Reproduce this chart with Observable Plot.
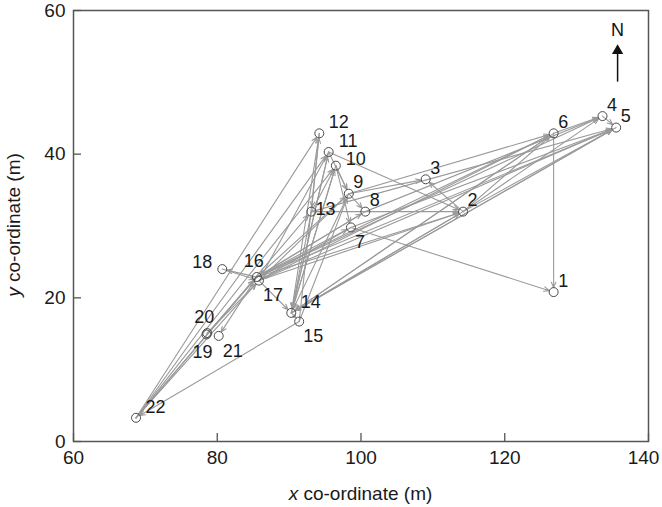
<!DOCTYPE html>
<html>
<head>
<meta charset="utf-8">
<script src="https://cdn.jsdelivr.net/npm/d3@7"></script>
<script src="https://cdn.jsdelivr.net/npm/@observablehq/plot@0.6"></script>
<style>
  html, body { margin: 0; padding: 0; background: #fff; }
  #chart { width: 662px; height: 507px; }
</style>
</head>
<body>
<div id="chart"></div>
<script>
// ---- Data ----
const siteIds = [1,2,3,4,5,6,7,8,9,10,11,12,13,14,15,16,17,18,19,20,21,22];
const xCoord  = [126.8,114.2,109.0,133.6,135.5,126.8,98.6,100.6,98.3,96.5,95.5,94.2,93.1,90.3,91.4,85.5,85.8,80.7,78.5,78.6,80.2,68.7];
const yCoord  = [20.8,32.0,36.5,45.3,43.7,42.9,29.8,32.0,34.5,38.4,40.3,42.9,32.0,17.9,16.7,22.9,22.4,24.0,14.9,15.1,14.7,3.3];
const labelSide = ["NE","NE","NE","NE","NE","NE","SE","NE","NE","ENE","NE","NE","E","NE","SE","N","SE","NW","S","N","SE","NE"];

// movements between sites (from -> to)
const moveFrom = [6,7,6,4,9,2,2,2,2,14,14,16,16,17,7,8,13,5,6,2,14,13,11,12,11,10,9,13,14,14,15,17,14,22,22,22,22,22,22,15,11,16,18,16,19,20,16,16,16,17,17,9,8,7,10,10,11,9,9,13,12,17,16,15];
const moveTo   = [1,1,4,5,6,3,6,4,5,5,6,5,4,6,5,4,5,14,14,14,2,2,2,14,14,14,14,14,11,10,12,14,15,12,11,10,13,16,17,22,17,18,17,21,16,17,7,8,2,9,2,16,16,17,7,9,9,8,3,10,13,5,6,9];

const xTicks = [60,80,100,120,140];
const yTicks = [0,20,40,60];

// compass annotation (data units)
const compassX = [135.7];
const compassLabelY = [57.2];
const compassArrowY = [50.1, 54.4];

// ---- Build tables ----
const sites = siteIds.map((id, i) => ({id, x: xCoord[i], y: yCoord[i], side: labelSide[i]}));
const byId = new Map(sites.map(s => [s.id, s]));
const moves = moveFrom.map((f, i) => {
  const a = byId.get(f), b = byId.get(moveTo[i]);
  return {x1: a.x, y1: a.y, x2: b.x, y2: b.y};
});

function offsetFor(s) {
  const n = String(s.id).length;
  switch (s.side) {
    case "NE":  return [n * 10 - 0.5, -11];
    case "ENE": return [n * 10, -6];
    case "E":   return [n * 7, -2];
    case "SE":  return [4 + n * 5, 15];
    case "N":   return [-3, -16];
    case "S":   return [-4, 18];
    case "NW":  return [-n * 10, -7];
    default:    return [0, 0];
  }
}
const labelGroups = d3.groups(sites, s => offsetFor(s).join(","));

const font = "'Liberation Sans', Arial, Helvetica, sans-serif";

const chart = Plot.plot({
  width: 662,
  height: 507,
  marginLeft: 73,
  marginRight: 14,
  marginTop: 10,
  marginBottom: 66,
  style: {fontFamily: font, fontSize: "19px", color: "#1a1a1a", background: "#fff"},
  x: {domain: [60, 140], label: null},
  y: {domain: [0, 60], label: null},
  marks: [
    Plot.arrow(moves, {
      x1: "x1", y1: "y1", x2: "x2", y2: "y2",
      stroke: "#9a9a9a", strokeWidth: 1.1,
      headLength: 8, headAngle: 45, insetEnd: 4.5, insetStart: 0
    }),
    Plot.dot(sites, {x: "x", y: "y", r: 4.5, stroke: "#4a4a4a", strokeWidth: 1, fill: "none"}),
    ...labelGroups.map(([key, group]) => {
      const [dx, dy] = key.split(",").map(Number);
      return Plot.text(group, {x: "x", y: "y", text: d => String(d.id), dx, dy,
        fontSize: 18, fill: "#1a1a1a", textAnchor: "middle"});
    }),
    // compass
    Plot.link(compassX, {x1: d => d, x2: d => d, y1: compassArrowY[0], y2: compassArrowY[1], stroke: "#111", strokeWidth: 1.5}),
    Plot.dot(compassX, {x: d => d, y: compassArrowY[1], symbol: "triangle", r: 4.2, fill: "#111", stroke: "none"}),
    Plot.text(compassX, {x: d => d, y: compassLabelY[0], text: () => "N", fontSize: 18, fill: "#111"}),
    Plot.frame({stroke: "#555", strokeWidth: 1.5}),
    Plot.axisX({ticks: xTicks, tickSize: -8, tickPadding: 17, stroke: "#555", strokeWidth: 1.3, fontSize: 19, label: null}),
    Plot.axisY({ticks: yTicks, tickSize: -8, tickPadding: 16, stroke: "#555", strokeWidth: 1.3, fontSize: 19, label: null})
  ]
});

const svg = d3.select(chart);
// keep the last x tick label inside the picture (as in the reference)
svg.selectAll('g[aria-label="x-axis tick label"] text')
  .filter(function() { return this.textContent.trim() === "140"; })
  .attr("dx", -5);

const xl = svg.append("text")
  .attr("x", 360.5).attr("y", 500)
  .attr("text-anchor", "middle")
  .attr("font-family", font).attr("font-size", 19).attr("fill", "#1a1a1a");
xl.append("tspan").attr("font-style", "italic").text("x");
xl.append("tspan").text(" co-ordinate (m)");

const yl = svg.append("text")
  .attr("transform", "translate(20,225) rotate(-90)")
  .attr("text-anchor", "middle")
  .attr("font-family", font).attr("font-size", 19).attr("fill", "#1a1a1a");
yl.append("tspan").attr("font-style", "italic").text("y");
yl.append("tspan").text(" co-ordinate (m)");

document.getElementById("chart").appendChild(chart);
</script>
</body>
</html>
